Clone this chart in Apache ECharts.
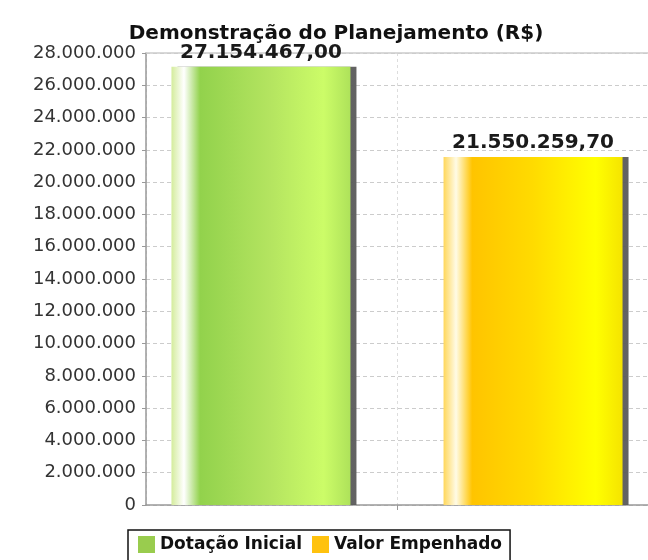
<!DOCTYPE html>
<html>
<head>
<meta charset="utf-8">
<script src="https://cdn.jsdelivr.net/npm/echarts@6/dist/echarts.min.js"></script>
<style>
  html, body { margin: 0; padding: 0; background: #fff; }
  #chart { width: 648px; height: 560px; }
</style>
</head>
<body>
<div id="chart"></div>
<script>
// categoria única, duas séries
const categorias = ['Planejamento']
const dotacaoInicial = [27154467.00]
const valorEmpenhado = [21550259.70]
const yMin = 0
const yMax = 28000000
const yStep = 2000000

function fmtMilhar(v) {
  return String(Math.round(v)).replace(/\B(?=(\d{3})+(?!\d))/g, '.')
}
function fmtReal(v) {
  const partes = v.toFixed(2).split('.')
  return fmtMilhar(Number(partes[0])) + ',' + partes[1]
}

const verde = {
  type: 'linear', x: 0, y: 0, x2: 1, y2: 0,
  colorStops: [
    { offset: 0, color: '#d4ec9c' },
    { offset: 0.07, color: '#ffffff' },
    { offset: 0.16, color: '#92d24c' },
    { offset: 0.55, color: '#b4e460' },
    { offset: 0.85, color: '#ccfc68' },
    { offset: 1, color: '#aee25a' }
  ]
}
const amarelo = {
  type: 'linear', x: 0, y: 0, x2: 1, y2: 0,
  colorStops: [
    { offset: 0, color: '#ffd75a' },
    { offset: 0.07, color: '#fffbe6' },
    { offset: 0.16, color: '#ffc400' },
    { offset: 0.5, color: '#ffdb00' },
    { offset: 0.85, color: '#ffff00' },
    { offset: 1, color: '#f5e400' }
  ]
}

const sombra = {
  shadowColor: 'rgba(90,90,90,0.95)',
  shadowBlur: 0,
  shadowOffsetX: 6,
  shadowOffsetY: 0
}
const rotulo = {
  show: true,
  position: 'top',
  distance: 4,
  fontFamily: 'DejaVu Sans',
  fontSize: 20,
  fontWeight: 'bold',
  color: '#1a1a1a',
  formatter: p => fmtReal(p.value)
}

const chart = echarts.init(document.getElementById('chart'))
const option = {
  backgroundColor: '#fff',
  animation: false,
  title: {
    text: 'Demonstração do Planejamento (R$)',
    left: 331,
    textAlign: 'center',
    top: 19,
    textStyle: { fontFamily: 'DejaVu Sans', fontSize: 20, fontWeight: 'bold', color: '#111' }
  },
  legend: {
    left: 128,
    top: 530,
    icon: 'rect',
    itemWidth: 17,
    itemHeight: 17,
    itemGap: 10,
    padding: [6, 8, 8, 10],
    borderColor: '#111',
    borderWidth: 1.5,
    textStyle: { fontFamily: 'DejaVu Sans', fontSize: 17, fontWeight: 'bold', color: '#111' },
    data: [
      { name: 'Dotação Inicial', itemStyle: { color: '#99cc4e' } },
      { name: 'Valor Empenhado', itemStyle: { color: '#ffc20e' } }
    ]
  },
  grid: { left: 146, top: 53, right: -6, bottom: 55 },
  xAxis: [
    {
      type: 'category',
      data: categorias,
      axisLine: { lineStyle: { color: '#999', width: 1.5 } },
      axisTick: { show: true, alignWithLabel: true, length: 5, lineStyle: { color: '#999' } },
      axisLabel: { show: false },
      splitLine: { show: false }
    },
    {
      type: 'value',
      position: 'top',
      min: 0, max: 2, interval: 1,
      axisLine: { show: true, onZero: false, lineStyle: { color: '#ccc', width: 1.5 } },
      axisTick: { show: false },
      axisLabel: { show: false },
      splitLine: { show: true, lineStyle: { color: '#ddd', type: [3, 3] } }
    }
  ],
  yAxis: {
    type: 'value',
    min: yMin,
    max: yMax,
    interval: yStep,
    axisLine: { show: true, lineStyle: { color: '#999', width: 1.5 } },
    axisTick: { show: true, length: 4, lineStyle: { color: '#999' } },
    axisLabel: {
      margin: 10,
      fontFamily: 'DejaVu Sans',
      fontSize: 18,
      color: '#333',
      formatter: v => fmtMilhar(v)
    },
    splitLine: { lineStyle: { color: '#ccc', type: [4, 3] } }
  },
  series: [
    {
      name: 'Dotação Inicial',
      type: 'bar',
      data: dotacaoInicial,
      barWidth: 179,
      barGap: '52%',
      itemStyle: Object.assign({ color: verde }, sombra),
      label: rotulo
    },
    {
      name: 'Valor Empenhado',
      type: 'bar',
      data: valorEmpenhado,
      barWidth: 179,
      itemStyle: Object.assign({ color: amarelo }, sombra),
      label: rotulo
    }
  ]
}
chart.setOption(option)
</script>
</body>
</html>
